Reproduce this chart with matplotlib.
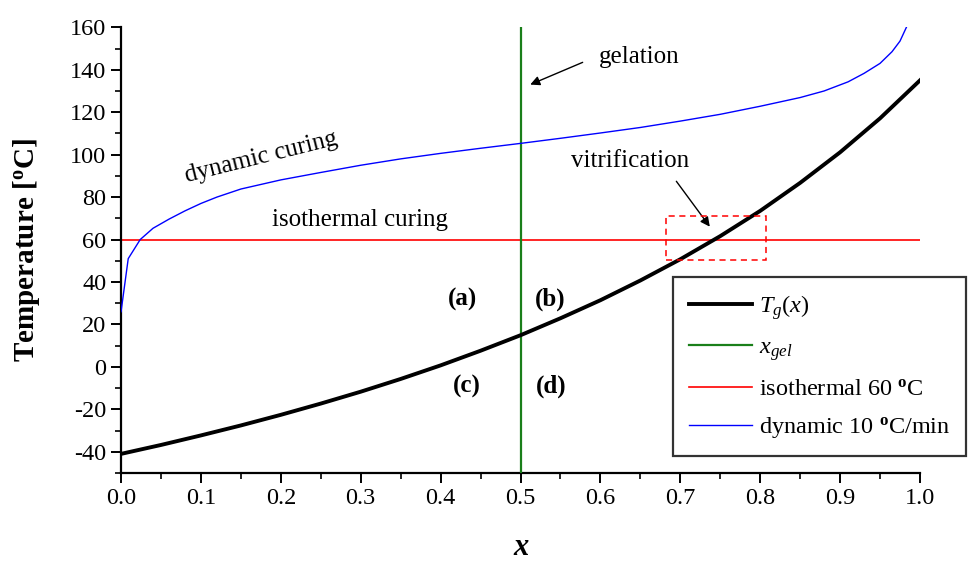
import numpy as np
import matplotlib
matplotlib.use("Agg")
import matplotlib.pyplot as plt
from matplotlib.patches import Rectangle

plt.rcParams['font.family'] = ['Liberation Serif', 'DejaVu Serif']
plt.rcParams['mathtext.fontset'] = 'custom'
plt.rcParams['mathtext.rm'] = 'Liberation Serif'
plt.rcParams['mathtext.it'] = 'Liberation Serif:italic'
plt.rcParams['mathtext.bf'] = 'Liberation Serif:bold'
plt.rcParams['axes.unicode_minus'] = False

# glass transition temperature vs conversion
x_tg = [0.0, 0.05, 0.1, 0.15, 0.2, 0.25, 0.3, 0.35, 0.4, 0.45, 0.5,
        0.55, 0.6, 0.65, 0.7, 0.75, 0.8, 0.85, 0.9, 0.95, 1.0]
tg = [-41.0, -36.8, -32.3, -27.6, -22.6, -17.3, -11.7, -5.7, 0.7, 7.6, 14.9,
      22.9, 31.4, 40.7, 50.7, 61.6, 73.5, 86.7, 101.1, 117.1, 135.0]

# dynamic curing path, 10 C/min
x_dyn = [0.0, 0.009, 0.024, 0.04, 0.06, 0.08, 0.10, 0.12, 0.15, 0.20, 0.25,
         0.30, 0.35, 0.40, 0.45, 0.50, 0.55, 0.60, 0.65, 0.70, 0.75, 0.80,
         0.85, 0.88, 0.91, 0.93, 0.95, 0.965, 0.975, 0.983]
t_dyn = [26.0, 51.0, 60.0, 65.3, 69.6, 73.5, 77.0, 80.0, 83.8, 88.1, 91.6,
         95.0, 98.0, 100.6, 103.0, 105.3, 107.7, 110.2, 112.8, 115.8, 119.0, 122.8,
         126.9, 130.0, 134.3, 138.3, 143.0, 148.5, 153.5, 160.0]

x_gel = 0.5
t_iso = 60

fig = plt.figure(figsize=(9.73, 5.63), dpi=100)
ax = fig.add_axes([0.1244, 0.1599, 0.8211, 0.7916])

ax.plot(x_tg, tg, color='black', lw=2.8, label=r'$T_g(x)$', zorder=4)
ax.axvline(x_gel, color='#1a7f1a', lw=1.6, label=r'$x_{gel}$', zorder=3)
ax.axhline(t_iso, color='red', lw=1.2, label=r'isothermal 60 $^\mathbf{o}$C', zorder=2)
ax.plot(x_dyn, t_dyn, color='blue', lw=1.0, label=r'dynamic 10 $^\mathbf{o}$C/min', zorder=3)

# vitrification box
ax.add_patch(Rectangle((0.6825, 50.2), 0.125, 20.8, fill=False, ec='red',
                       ls=(0, (4, 3)), lw=1.1, zorder=5))

ax.annotate('', xy=(0.509, 132.5), xytext=(0.581, 144),
            arrowprops=dict(arrowstyle='-|>', color='black', lw=1.0, mutation_scale=14))
ax.annotate('', xy=(0.739, 65.0), xytext=(0.693, 88.5),
            arrowprops=dict(arrowstyle='-|>', color='black', lw=1.0, mutation_scale=14))

ax.text(0.648, 146, 'gelation', fontsize=18, ha='center', va='center')
ax.text(0.637, 97, 'vitrification', fontsize=18, ha='center', va='center')
ax.text(0.176, 98.5, 'dynamic curing', fontsize=18, ha='center', va='center', rotation=14)
ax.text(0.299, 69, 'isothermal curing', fontsize=18, ha='center', va='center')
for lab, xx, yy in [('(a)', 0.428, 31.7), ('(b)', 0.537, 31.7),
                    ('(c)', 0.433, -9), ('(d)', 0.539, -9)]:
    ax.text(xx, yy, lab, fontsize=18, fontweight='bold', ha='center', va='center')

ax.set_xlim(0, 1.0)
ax.set_ylim(-50, 160)
ax.set_xticks(np.arange(0, 1.01, 0.1))
ax.set_xticks(np.arange(0, 1.01, 0.05), minor=True)
ax.set_yticks(np.arange(-40, 161, 20))
ax.set_yticks(np.arange(-50, 161, 10), minor=True)
ax.set_xticklabels(['%.1f' % v for v in np.arange(0, 1.01, 0.1)])
ax.tick_params(which='major', direction='out', length=7, width=1.4, labelsize=17.5)
ax.tick_params(which='minor', direction='out', length=4, width=1.2)
for s in ['top', 'right']:
    ax.spines[s].set_visible(False)
for s in ['left', 'bottom']:
    ax.spines[s].set_linewidth(1.6)

ax.set_ylabel(r'Temperature [$^\mathbf{o}$C]', fontsize=21, fontweight='bold', labelpad=20)
ax.set_xlabel('x', fontsize=22, fontweight='bold', fontstyle='italic')
ax.xaxis.set_label_coords(0.5, -0.135)

leg = fig.legend(loc='upper left', bbox_to_anchor=(0.6917, 0.508), fontsize=17.5,
                 frameon=True, fancybox=False, edgecolor='black', handlelength=2.6,
                 handletextpad=0.3, labelspacing=0.62, borderpad=0.65, borderaxespad=0)
leg.get_frame().set_linewidth(1.6)

fig.savefig('out.png', dpi=100)
